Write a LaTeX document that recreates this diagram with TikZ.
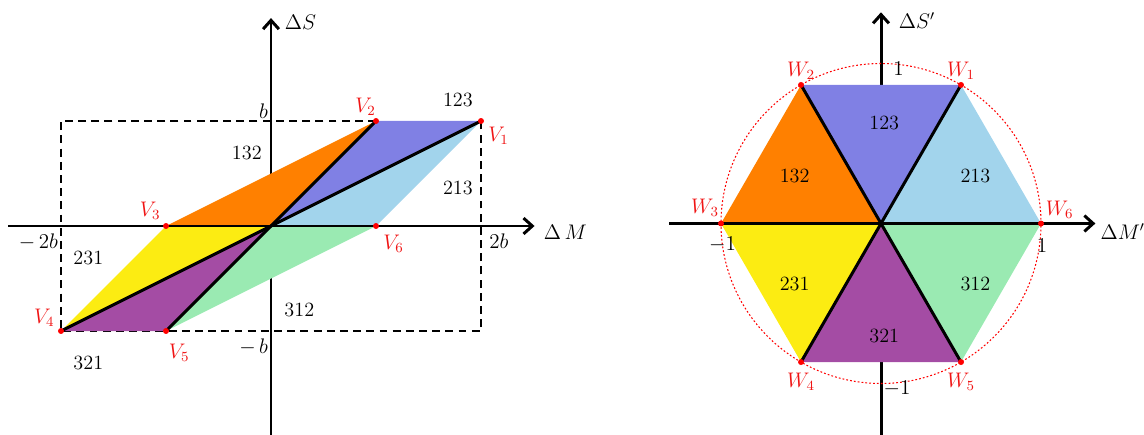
\documentclass[tikz,border=0pt]{standalone}
\usepackage{amsmath}
\usepackage{xcolor}
\usepackage{tikz}
\usetikzlibrary{arrows.meta, positioning, calc}
\definecolor{col123}{RGB}{128,128,228}
\definecolor{col213}{RGB}{162,212,236}
\definecolor{col132}{RGB}{255,128,0}
\definecolor{col231}{RGB}{252,236,18}
\definecolor{col321}{RGB}{164,76,164}
\definecolor{col312}{RGB}{154,234,178}
\definecolor{vred}{RGB}{240,20,20}

\begin{document}
\begin{tikzpicture}[
    >={Straight Barb[length=5pt, width=9pt]},
    axis/.style={->, line width=1.7pt},
    edge/.style={line width=1.7pt},
    frame/.style={line width=1.7pt, dash pattern=on 4.5pt off 3pt},
    ring/.style={red, line width=0.6pt, dash pattern=on 1pt off 1.2pt},
    vdot/.style={circle, fill=red, inner sep=0pt, minimum size=3.4pt},
    vlabel/.style={text=vred, font=\fontsize{11.5}{13}\selectfont, inner sep=1pt},
    tick/.style={font=\fontsize{11.5}{13}\selectfont, inner sep=1.5pt},
    region/.style={font=\fontsize{11.5}{13}\selectfont}
]
    \useasboundingbox (0,0) rectangle (22.88,8.68);

    % Left: original plane
    \begin{scope}[shift={(5.42,4.16)}, x=2.1cm, y=2.1cm]
    \coordinate (O) at (0,0);
    \coordinate (V1) at (2,1);
    \coordinate (V2) at (1,1);
    \coordinate (V3) at (-1,0);
    \coordinate (V4) at (-2,-1);
    \coordinate (V5) at (-1,-1);
    \coordinate (V6) at (1,0);
    \coordinate (xL) at (-2.5,0);
    \coordinate (xR) at (2.51,0);
    \coordinate (yB) at (0,-2);
    \coordinate (yT) at (0,1.98);

    % Bounds and vertical axis
    \draw[frame] (V2) -- (-2,1) -- (V4) -- (2,-1) -- (V1);
    \draw[axis] (yB) -- (yT);

    % Sectors
    \fill[col123] (O) -- (V2) -- (V1) -- cycle;
    \fill[col213] (O) -- (V1) -- (V6) -- cycle;
    \fill[col132] (O) -- (V3) -- (V2) -- cycle;
    \fill[col231] (O) -- (V4) -- (V3) -- cycle;
    \fill[col321] (O) -- (V5) -- (V4) -- cycle;
    \fill[col312] (O) -- (V6) -- (V5) -- cycle;

    % Axis and diagonals
    \draw[axis] (xL) -- (xR);
    \draw[edge] (V4) -- (V1);
    \draw[edge] (V5) -- (V2);
    \foreach \i in {1,...,6}
        \node[vdot] (dV\i) at (V\i) {};

    % Vertex labels
    \node[vlabel, below right=2pt and 3pt of V1] (lV1) {$V_1$};
    \node[vlabel, above left=2pt and -1pt of V2] (lV2) {$V_2$};
    \node[vlabel, above left=2.5pt and 2pt of V3] (lV3) {$V_3$};
    \node[vlabel, above left=1.5pt and 2.5pt of V4] (lV4) {$V_4$};
    \node[vlabel, below right=6pt and 0.5pt of V5] (lV5) {$V_5$};
    \node[vlabel, below right=4pt and 3pt of V6] (lV6) {$V_6$};

    % Ticks
    \node[tick, anchor=south east] (tb) at (0,1) {$b$};
    \node[tick, anchor=north east, yshift=-2.5pt] (tmb) at (0,-1) {$-\,b$};
    \node[tick, anchor=north east, yshift=-2.5pt] (tm2b) at (-2,0) {$-\,2b$};
    \node[tick, anchor=north west, xshift=3pt, yshift=-3pt] (t2b) at (2,0) {$2b$};
    \node[tick] (lS) at (0.28,1.94) {$\Delta S$};
    \node[tick, anchor=west] (lM) at (2.57,-0.06) {$\Delta\,M$};

    % Sector names
    \foreach \n/\x/\y in {123/1.78/1.2, 132/-0.23/0.7, 213/1.78/0.36,
                          231/-1.74/-0.3, 312/0.27/-0.8, 321/-1.74/-1.3}
        \node[region] (a\n) at (\x,\y) {\n};
    \end{scope}

    % Right: normalised plane
    \begin{scope}[shift={(17.62,4.21)}, x=3.2cm, y=3.2cm]
    \coordinate (P) at (0,0);
    \foreach \i/\a in {1/60, 2/120, 3/180, 4/240, 5/300, 6/0}
        \coordinate (W\i) at (\a:1);
    \coordinate (uL) at (-1.325,0);
    \coordinate (uR) at (1.34,0);
    \coordinate (vB) at (0,-1.32);
    \coordinate (vT) at (0,1.32);

    % Vertical axis and unit circle
    \draw[axis] (vB) -- (vT);
    \draw[ring] (P) circle (1);

    % Sectors
    \fill[col123] (P) -- (W1) -- (W2) -- cycle;
    \fill[col213] (P) -- (W6) -- (W1) -- cycle;
    \fill[col132] (P) -- (W2) -- (W3) -- cycle;
    \fill[col231] (P) -- (W3) -- (W4) -- cycle;
    \fill[col321] (P) -- (W4) -- (W5) -- cycle;
    \fill[col312] (P) -- (W5) -- (W6) -- cycle;

    % Axis and diagonals
    \draw[axis] (uL) -- (uR);
    \draw[edge] (W4) -- (W1);
    \draw[edge] (W5) -- (W2);
    \foreach \i in {1,...,6}
        \node[vdot] (dW\i) at (W\i) {};

    % Vertex labels
    \node[vlabel, above=2pt of W1] (lW1) {$W_1$};
    \node[vlabel, above=2pt of W2] (lW2) {$W_2$};
    \node[vlabel, above left=2.5pt and 0pt of W3] (lW3) {$W_3$};
    \node[vlabel, below=5pt of W4] (lW4) {$W_4$};
    \node[vlabel, below=5pt of W5] (lW5) {$W_5$};
    \node[vlabel, above right=1.5pt and 1.5pt of W6] (lW6) {$W_6$};

    % Ticks
    \node[tick] (u1) at (0.11,0.97) {$1$};
    \node[tick] (um1) at (-0.99,-0.134) {$-1$};
    \node[tick] (v1) at (1.006,-0.14) {$1$};
    \node[tick] (vm1) at (0.1,-1.03) {$-1$};
    \node[tick] (lSp) at (0.225,1.27) {$\Delta S'$};
    \node[tick, anchor=west, inner sep=0pt] (lMp) at (1.37,-0.05) {$\Delta M'$};

    % Sector names
    \foreach \n/\x/\y in {123/0.02/0.63, 132/-0.54/0.30, 213/0.59/0.30,
                          231/-0.54/-0.375, 312/0.59/-0.375, 321/0.02/-0.70}
        \node[region] (h\n) at (\x,\y) {\n};
    \end{scope}
\end{tikzpicture}
\end{document}
